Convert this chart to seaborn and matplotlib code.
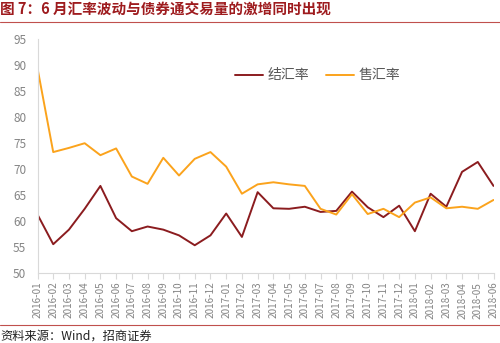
import matplotlib
matplotlib.use("Agg")
import matplotlib.pyplot as plt
import seaborn as sns
import pandas as pd
from matplotlib.lines import Line2D

months = ["2016-01", "2016-02", "2016-03", "2016-04", "2016-05", "2016-06",
          "2016-07", "2016-08", "2016-09", "2016-10", "2016-11", "2016-12",
          "2017-01", "2017-02", "2017-03", "2017-04", "2017-05", "2017-06",
          "2017-07", "2017-08", "2017-09", "2017-10", "2017-11", "2017-12",
          "2018-01", "2018-02", "2018-03", "2018-04", "2018-05", "2018-06"]

settle = [61.3, 55.6, 58.4, 62.4, 66.8, 60.6, 58.1, 59.0, 58.4, 57.3,
          55.4, 57.3, 61.5, 57.0, 65.6, 62.5, 62.4, 62.8, 61.8, 62.0,
          65.7, 62.7, 60.8, 63.0, 58.1, 65.3, 62.8, 69.5, 71.4, 66.8]

sale = [89.4, 73.3, 74.1, 75.0, 72.7, 74.0, 68.6, 67.2, 72.2, 68.8,
        72.0, 73.3, 70.5, 65.3, 67.1, 67.5, 67.1, 66.8, 62.4, 61.3,
        65.2, 61.4, 62.4, 60.8, 63.6, 64.6, 62.5, 62.8, 62.4, 64.1]

series_names = ["结汇率", "售汇率"]
colors = ["#8B1C1F", "#FBA31C"]
yticks = [50, 55, 60, 65, 70, 75, 80, 85, 90, 95]

sns.set_theme(style="white")
plt.rcParams["font.family"] = ["Noto Sans CJK SC", "DejaVu Sans"]

df = pd.DataFrame({
    "idx": list(range(len(months))) * 2,
    "value": settle + sale,
    "series": [series_names[0]] * len(months) + [series_names[1]] * len(months),
})

fig = plt.figure(figsize=(5.0, 3.43), dpi=100)
ax = fig.add_axes([0.075, 0.203, 0.912, 0.683])

sns.lineplot(data=df, x="idx", y="value", hue="series", hue_order=series_names,
             palette=colors, linewidth=1.4, ax=ax, legend=False)

ax.set_xlim(0, len(months) - 1)
ax.set_ylim(50, 95)
ax.set_yticks(yticks)
ax.set_yticklabels([str(v) for v in yticks], fontsize=8.5, color="#858585")
ax.set_xticks(range(len(months)))
ax.set_xticklabels(months, rotation=90, fontsize=7.2, color="#858585")
ax.set_xlabel("")
ax.set_ylabel("")
for s in ["top", "right"]:
    ax.spines[s].set_visible(False)
for s in ["left", "bottom"]:
    ax.spines[s].set_color("#d9d9d9")
    ax.spines[s].set_linewidth(0.8)
ax.tick_params(axis="x", which="major", direction="out", length=4, color="#d9d9d9",
               width=0.8, pad=2, bottom=True)
ax.tick_params(axis="y", which="major", length=0, pad=8)
ax.grid(False)

handles = [Line2D([0], [0], color=c, lw=1.4) for c in colors]
fig.legend(handles, series_names, loc="center left", bbox_to_anchor=(0.445, 0.78),
           ncol=2, frameon=False, fontsize=10, handlelength=2.0, handletextpad=0.35,
           columnspacing=1.2, labelcolor="#595959")

fig.text(0.0, 0.972, "图 7：6 月汇率波动与债券通交易量的激增同时出现", fontsize=10.5,
         fontweight="bold", color="#9E1B1E", ha="left", va="center")
fig.add_artist(Line2D([0, 1], [0.936, 0.936], color="#C0504D", lw=0.8,
                      transform=fig.transFigure))
fig.add_artist(Line2D([0, 1], [0.052, 0.052], color="#C0504D", lw=0.8,
                      transform=fig.transFigure))
fig.text(0.0, 0.02, "资料来源：Wind，招商证券", fontsize=8.8, color="#222222",
         ha="left", va="center")

fig.savefig("out.png", dpi=100)
